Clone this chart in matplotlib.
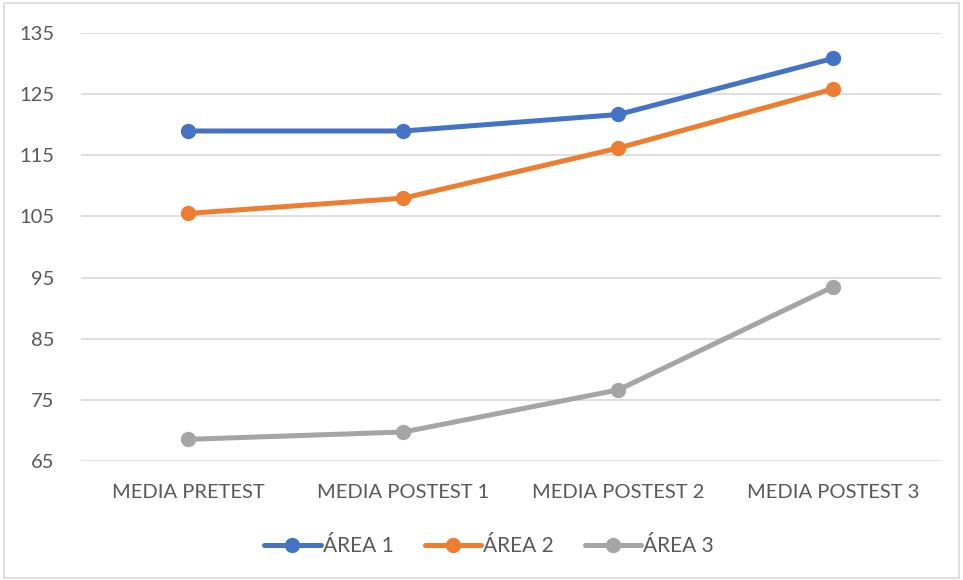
import matplotlib
matplotlib.use('Agg')
import matplotlib.pyplot as plt
from matplotlib.patches import Rectangle

plt.rcParams['font.family'] = ['Lato', 'DejaVu Sans']

categories = ['MEDIA PRETEST', 'MEDIA POSTEST 1', 'MEDIA POSTEST 2', 'MEDIA POSTEST 3']
area1 = [119.0, 119.0, 121.7, 130.9]
area2 = [105.5, 108.0, 116.2, 125.9]
area3 = [68.5, 69.7, 76.6, 93.5]
series_names = ['ÁREA 1', 'ÁREA 2', 'ÁREA 3']
series_colors = ['#4472C4', '#ED7D31', '#A5A5A5']
y_ticks = [65, 75, 85, 95, 105, 115, 125, 135]

fig = plt.figure(figsize=(9.63, 5.8), dpi=100)
ax = fig.add_axes([0.0841, 0.2057, 0.8929, 0.7369])

x = range(len(categories))
for vals, name, col in zip([area1, area2, area3], series_names, series_colors):
    ax.plot(x, vals, color=col, lw=3.6, marker='o', markersize=10,
            label=name, solid_capstyle='round', zorder=3)

ax.set_xlim(-0.5, len(categories) - 0.5)
ax.set_ylim(65, 135)
ax.set_yticks(y_ticks)
ax.set_xticks(list(x))
ax.set_xticklabels(categories)
ax.tick_params(axis='both', length=0, labelsize=14.5, labelcolor='#595959')
ax.tick_params(axis='x', pad=17)
ax.tick_params(axis='y', pad=19)
ax.grid(axis='y', color='#D9D9D9', lw=1.2)
ax.set_axisbelow(True)
for s in ax.spines.values():
    s.set_visible(False)

leg = fig.legend(loc='center', bbox_to_anchor=(0.508, 0.058), ncol=3, frameon=False,
                 fontsize=15, handlelength=2.7, columnspacing=1.5, handletextpad=0.1)
for t in leg.get_texts():
    t.set_color('#595959')

# light frame around the whole chart
fig.patches.append(Rectangle((0.004, 0.004), 0.992, 0.99, transform=fig.transFigure,
                             fill=False, edgecolor='#D9D9D9', lw=1.2))

fig.savefig('out.png', dpi=100)
